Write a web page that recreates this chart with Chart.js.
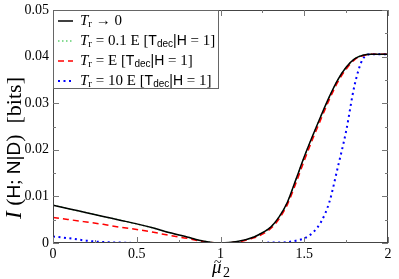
<!DOCTYPE html>
<html>
<head>
<meta charset="utf-8">
<script src="https://cdn.jsdelivr.net/npm/chart.js@4"></script>
<style>
  html, body { margin: 0; padding: 0; background: #fff; }
  #wrap { width: 399px; height: 279px; }
</style>
</head>
<body>
<div id="wrap"><canvas id="chart" width="399" height="279"></canvas></div>
<script>
// mu2 values (x axis)
const mu2 = [0, 0.1, 0.2, 0.3, 0.4, 0.5, 0.6, 0.7, 0.8, 0.9, 1.0, 1.1, 1.2, 1.25, 1.3, 1.35,
  1.4, 1.45, 1.5, 1.55, 1.6, 1.65, 1.7, 1.75, 1.8, 1.85, 1.9, 1.95, 2.0];

// I(H;N|D) in bits
const trZero = [0.0081, 0.0073, 0.0065, 0.0057, 0.0049, 0.0041, 0.0032, 0.0022, 0.0013, 0.0004, 0.0000,
  0.0003, 0.0013, 0.0022, 0.0034, 0.0056, 0.0088, 0.0136, 0.0185, 0.0230, 0.0273, 0.0314, 0.0350,
  0.0377, 0.0395, 0.0403, 0.0405, 0.0405, 0.0405];
const trTenth = [0.0081, 0.0073, 0.0065, 0.0057, 0.0049, 0.0041, 0.0032, 0.0022, 0.0013, 0.0004, 0.0000,
  0.0003, 0.0013, 0.0022, 0.0034, 0.0056, 0.0087, 0.0135, 0.0184, 0.0229, 0.0272, 0.0313, 0.0349,
  0.0376, 0.0395, 0.0403, 0.0405, 0.0405, 0.0405];
const trOne = [0.0055, 0.0050, 0.0045, 0.0040, 0.0034, 0.0029, 0.0023, 0.0016, 0.0010, 0.0003, 0.0000,
  0.0002, 0.0011, 0.0019, 0.0031, 0.0052, 0.0083, 0.0128, 0.0177, 0.0223, 0.0266, 0.0308, 0.0345,
  0.0373, 0.0393, 0.0402, 0.0405, 0.0405, 0.0405];
const trTen = [0.0014, 0.0010, 0.0005, 0.0002, 0.0001, 0, 0, 0, 0, 0, 0,
  0, 0, 0, 0.0001, 0.0001, 0.0002, 0.0005, 0.0010, 0.0022, 0.0045, 0.0088, 0.0162,
  0.0240, 0.0338, 0.0395, 0.0405, 0.0405, 0.0405];

const xTicks = [0, 0.5, 1, 1.5, 2];
const xMinor = [0.25, 0.75, 1.25, 1.75];
const yTicks = [0, 0.01, 0.02, 0.03, 0.04, 0.05];
const yMinor = [0.005, 0.015, 0.025, 0.035, 0.045];

const SERIF = '"Liberation Serif", "DejaVu Serif", serif';
const SANS = '"Liberation Sans", "DejaVu Sans", sans-serif';

function pts(ys) { return mu2.map((x, i) => ({ x: x, y: ys[i] })); }

// legend rows: line style + text pieces (dy = subscript shift)
const legendRows = [
  { color: '#000', dash: [], width: 1.5, parts: [
    { t: 'T', f: 'italic 15px ' + SERIF }, { t: 'r', f: '11px ' + SERIF, dy: 3 },
    { t: ' \u2192 0', f: '15px ' + SERIF }] },
  { color: '#5fcf6f', dash: [1.5, 2.5], width: 1.5, parts: [
    { t: 'T', f: 'italic 15px ' + SERIF }, { t: 'r', f: '11px ' + SERIF, dy: 3 },
    { t: ' = 0.1 E [', f: '15px ' + SERIF }, { t: 'T', f: '14px ' + SANS },
    { t: 'dec', f: '10px ' + SANS, dy: 3 }, { t: '|H', f: '14px ' + SANS }, { t: ' = 1]', f: '15px ' + SERIF }] },
  { color: '#ff0000', dash: [6, 4], width: 1.5, parts: [
    { t: 'T', f: 'italic 15px ' + SERIF }, { t: 'r', f: '11px ' + SERIF, dy: 3 },
    { t: ' = E [', f: '15px ' + SERIF }, { t: 'T', f: '14px ' + SANS },
    { t: 'dec', f: '10px ' + SANS, dy: 3 }, { t: '|H', f: '14px ' + SANS }, { t: ' = 1]', f: '15px ' + SERIF }] },
  { color: '#0000ff', dash: [2, 3.5], width: 2, parts: [
    { t: 'T', f: 'italic 15px ' + SERIF }, { t: 'r', f: '11px ' + SERIF, dy: 3 },
    { t: ' = 10 E [', f: '15px ' + SERIF }, { t: 'T', f: '14px ' + SANS },
    { t: 'dec', f: '10px ' + SANS, dy: 3 }, { t: '|H', f: '14px ' + SANS }, { t: ' = 1]', f: '15px ' + SERIF }] }
];

function drawParts(c, parts, x, y) {
  parts.forEach(p => {
    c.font = p.f;
    c.fillText(p.t, x, y + (p.dy || 0));
    x += c.measureText(p.t).width;
  });
  return x;
}
function partsWidth(c, parts) {
  let w = 0;
  parts.forEach(p => { c.font = p.f; w += c.measureText(p.t).width; });
  return w;
}

const decor = {
  id: 'decor',
  afterDatasetsDraw(chart) {
    const c = chart.ctx, a = chart.chartArea;
    const xs = chart.scales.x, ys = chart.scales.y;
    c.save();
    // frame
    c.strokeStyle = '#444';
    c.lineWidth = 1;
    c.strokeRect(a.left + 0.5, a.top + 0.5, a.right - a.left - 1, a.bottom - a.top - 1);
    // inward ticks on all sides
    c.strokeStyle = '#777';
    c.beginPath();
    const tick = (vals, len) => {
      vals.forEach(v => {
        const px = Math.round(xs.getPixelForValue(v)) + 0.5;
        c.moveTo(px, a.bottom); c.lineTo(px, a.bottom - len);
        c.moveTo(px, a.top); c.lineTo(px, a.top + len);
      });
    };
    const tickY = (vals, len) => {
      vals.forEach(v => {
        const py = Math.round(ys.getPixelForValue(v)) + 0.5;
        c.moveTo(a.left, py); c.lineTo(a.left + len, py);
        c.moveTo(a.right, py); c.lineTo(a.right - len, py);
      });
    };
    tick(xTicks, 6); tick(xMinor, 3);
    tickY(yTicks, 6); tickY(yMinor, 3);
    c.stroke();

    // legend box
    const lx = a.left, ly = a.top, lw = 165, lh = 78;
    c.fillStyle = '#fff';
    c.fillRect(lx + 1, ly + 1, lw, lh);
    c.strokeStyle = '#666';
    c.strokeRect(lx + 0.5, ly + 0.5, lw, lh);
    legendRows.forEach((r, i) => {
      const yy = ly + 11 + i * 20;
      c.strokeStyle = r.color;
      c.lineWidth = r.width;
      c.setLineDash(r.dash);
      c.beginPath(); c.moveTo(lx + 5, yy); c.lineTo(lx + 20, yy); c.stroke();
      c.setLineDash([]);
      c.fillStyle = '#000';
      c.textBaseline = 'middle';
      drawParts(c, r.parts, lx + 27, yy);
    });

    // x title: mu tilde 2
    c.fillStyle = '#000';
    c.textBaseline = 'alphabetic';
    const mx = 212;
    c.font = 'italic 19px ' + SERIF;
    c.fillText('\u03bc', mx, 273);
    c.font = '14px ' + SERIF;
    c.fillText('~', mx + 2, 267);
    c.font = '14px ' + SERIF;
    c.fillText('2', mx + 11, 277);

    // y title (rotated)
    const yParts = [
      { t: 'I', f: 'italic 23px ' + SERIF }, { t: ' (', f: '22px ' + SERIF },
      { t: 'H', f: '19px ' + SANS }, { t: ';', f: '19px ' + SERIF }, { t: ' N', f: '19px ' + SANS },
      { t: '|', f: '19px ' + SANS }, { t: 'D', f: '19px ' + SANS },
      { t: ')  [bits]', f: '22px ' + SERIF }
    ];
    c.translate(15, 148);
    c.rotate(-Math.PI / 2);
    const w = partsWidth(c, yParts);
    c.textBaseline = 'middle';
    drawParts(c, yParts, -w / 2, 0);
    c.restore();
  }
};

new Chart(document.getElementById('chart'), {
  type: 'line',
  data: {
    datasets: [
      { data: pts(trZero), borderColor: '#000', borderWidth: 1.5 },
      { data: pts(trOne), borderColor: '#ff0000', borderWidth: 1.5, borderDash: [6, 4] },
      { data: pts(trTen), borderColor: '#0000ff', borderWidth: 2, borderDash: [2, 3.5] },
      { data: pts(trTenth), borderColor: '#5fcf6f', borderWidth: 1.5, borderDash: [1.5, 2.5] }
    ]
  },
  options: {
    responsive: false,
    animation: false,
    layout: { padding: { left: 0, right: 11, top: 10, bottom: 0 } },
    elements: { point: { radius: 0 }, line: { cubicInterpolationMode: 'monotone', fill: false } },
    plugins: { legend: { display: false }, tooltip: { enabled: false } },
    scales: {
      x: {
        type: 'linear', min: 0, max: 2,
        afterFit(s) { s.height = 36; s.paddingLeft = 0; s.paddingRight = 0; },
        afterBuildTicks(s) { s.ticks = xTicks.map(v => ({ value: v })); },
        grid: { display: false, drawTicks: false },
        border: { display: false },
        ticks: { color: '#000', padding: 3, font: { family: SERIF, size: 14 }, maxRotation: 0,
          callback: v => String(v) }
      },
      y: {
        min: 0, max: 0.05,
        afterFit(s) { s.width = 53; s.paddingTop = 0; s.paddingBottom = 0; },
        afterBuildTicks(s) { s.ticks = yTicks.map(v => ({ value: v })); },
        grid: { display: false, drawTicks: false },
        border: { display: false },
        ticks: { color: '#000', padding: 4, font: { family: SERIF, size: 14 },
          callback: v => v === 0 ? '0' : v.toFixed(2) }
      }
    }
  },
  plugins: [decor]
});
</script>
</body>
</html>
